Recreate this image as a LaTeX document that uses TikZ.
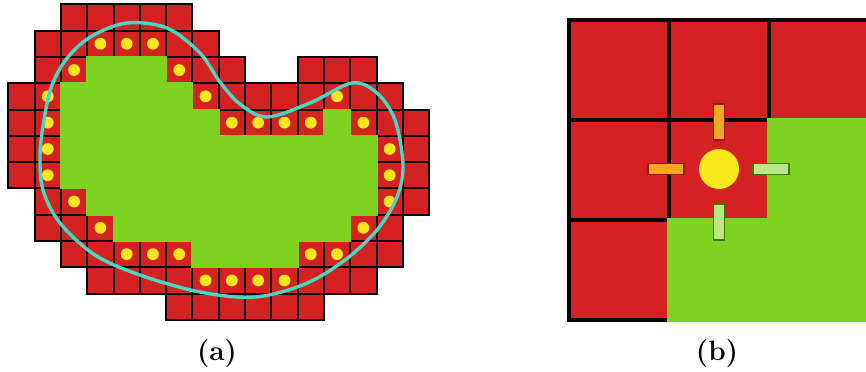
\documentclass[tikz,border=0pt]{standalone}
\begin{document}
\definecolor{cred}{HTML}{D42222}
\definecolor{cgreen}{HTML}{7ED321}
\definecolor{cyellow}{HTML}{F8E71C}
\definecolor{corange}{HTML}{F5A623}
\definecolor{clgreen}{HTML}{B8E986}
\definecolor{cdgreen}{HTML}{417505}
\definecolor{cdred}{HTML}{A31515}
\definecolor{ccyan}{HTML}{46D8C0}
\tikzset{
  redcell/.style={fill=cred, draw=black, line width=1pt},
  greencell/.style={fill=cgreen, draw=cgreen, line width=1pt},
  bigred/.style={fill=cred, draw=black, line width=1.65pt},
  biggreen/.style={fill=cgreen, draw=cgreen, line width=1.65pt},
  dot/.style={fill=cyellow},
  obar/.style={fill=corange, draw=cdred, line width=0.8pt},
  gbar/.style={fill=clgreen, draw=cdgreen, line width=0.8pt},
  contour/.style={draw=ccyan, line width=1.7pt},
  lab/.style={font=\fontsize{14}{16}\selectfont\bfseries, inner sep=0pt, anchor=base}
}
\begin{tikzpicture}[x=0.5pt,y=-0.5pt]
\useasboundingbox (0,0) rectangle (866,371);
\clip (0,0) rectangle (866,371);
\def\s{26.3}
\def\xo{8.3}
\def\yo{4.3}
% (a) red cells
\foreach \r/\a/\b in {0/2/6,1/1/7,2/1/8,2/11/13,3/0/14,4/0/15,5/0/15,6/0/15,7/1/15,8/1/14,9/2/14,10/3/13,11/6/11}{
  \foreach \c in {\a,...,\b}{
    \draw[redcell] ({\xo+\c*\s},{\yo+\r*\s}) rectangle ++(\s,\s);
  }
}
% (a) green cells
\foreach \r/\a/\b in {2/3/5,3/2/6,4/2/7,4/12/12,5/2/13,6/2/13,7/3/13,8/4/12,9/7/10}{
  \foreach \c in {\a,...,\b}{
    \draw[greencell] ({\xo+\c*\s},{\yo+\r*\s}) rectangle ++(\s,\s);
  }
}
% (a) dots
\foreach \c/\r in {3/1,4/1,5/1,2/2,6/2,1/3,7/3,12/3,1/4,8/4,9/4,10/4,11/4,13/4,1/5,14/5,1/6,14/6,2/7,14/7,3/8,13/8,4/9,5/9,6/9,11/9,12/9,7/10,8/10,9/10,10/10}{
  \fill[dot] ({\xo+(\c+0.5)*\s},{\yo+(\r+0.5)*\s}) circle (5.9);
}
% (a) contour
\draw[contour] plot[smooth cycle, tension=0.55] coordinates {
 (127,23) (167,28) (200,53) (220,82) (240,104) (267,117) (310,103) (352,83) (377,93) (395,120) (403,165) (397,197) (377,230) (345,260) (305,284) (255,297) (200,292) (140,275) (95,255) (60,223) (43,190) (40,155) (44,120) (52,85) (68,57) (92,36)
};
% (b) cells
\foreach \c in {0,1,2}{
  \foreach \r in {0,1,2}{
    \draw[bigred] ({569+\c*100},{20+\r*100}) rectangle ++(100,100);
  }
}
\foreach \c/\r in {2/1,1/2,2/2}{
  \draw[biggreen] ({569+\c*100},{20+\r*100}) rectangle ++(100,100);
}
\fill[dot] (719,169) circle (20);
\draw[obar] (713.5,104) rectangle (724.5,140);
\draw[obar] (648,163.5) rectangle (684,174.5);
\draw[gbar] (753,163.5) rectangle (789,174.5);
\draw[gbar] (713.5,204) rectangle (724.5,240);
% labels
\node[lab] (la) at (217,360) {(a)};
\node[lab] (lb) at (717,360) {(b)};
\end{tikzpicture}
\end{document}
